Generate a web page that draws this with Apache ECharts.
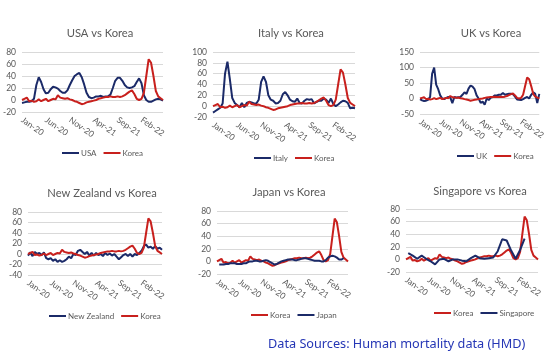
<!DOCTYPE html>
<html>
<head>
<meta charset="utf-8">
<script src="https://cdn.jsdelivr.net/npm/echarts@6/dist/echarts.min.js"></script>
<style>html,body{margin:0;padding:0;background:#fff}#c{width:548px;height:357px}</style>
</head>
<body>
<div id="c"></div>
<script>
// Half-month periods, Jan-20 .. Jun-22 (60 points)
const monthNames = ['Jan','Feb','Mar','Apr','May','Jun','Jul','Aug','Sep','Oct','Nov','Dec'];
const categories = [];
for (let y = 20; y <= 22; y++) {
  for (let m = 0; m < 12; m++) {
    if (y === 22 && m > 5) break;
    categories.push(monthNames[m] + '-' + y);
    categories.push(monthNames[m] + '-' + y + ' late');
  }
}
const xTickLabels = ['Jan-20','Jun-20','Nov-20','Apr-21','Sep-21','Feb-22'];

const korea = [0,2,4,-2,-1,-3,-2,1,-2,0, 2,-2,0,2,1,8,4,3,2,3, 1,0,-2,-3,-5,-7,-6,-4,-3,-2,
  -1,0,2,3,4,5,5,6,5,5, 6,5,6,8,11,14,16,10,2,0, 2,12,40,68,62,40,15,6,3,0];
const usa = [-5,-4,-3,-3,-2,2,25,38,30,18, 11,12,18,22,21,19,15,12,12,16, 25,33,40,43,45,38,26,12,5,3,
  4,6,6,7,5,6,6,9,20,32, 37,37,32,25,21,20,21,23,30,36, 28,8,0,-3,-3,-1,1,2,1,-1];
const italy = [-12,-9,-6,-3,5,60,82,50,15,6, 2,-2,6,-2,6,8,7,5,5,12, 45,55,45,20,12,10,5,6,10,22,
  26,20,12,9,8,14,6,5,10,13, 12,13,5,8,10,10,14,12,6,14, 4,0,3,7,10,9,6,-4,-3,-4];
const uk = [-2,-6,-8,-7,-4,5,80,100,45,30, 10,0,-2,2,5,3,-15,5,3,4, 5,12,20,15,32,42,38,30,10,0,
  -14,-10,-20,0,-5,3,5,10,10,12, 12,18,12,14,15,15,14,6,-3,-4, -5,-2,2,5,0,12,20,15,-15,15];
const newZealand = [-3,3,-4,4,0,2,-2,3,-8,-10, -8,-13,-10,-15,-12,-15,-13,-10,-5,-8, 0,-2,6,8,4,0,4,-3,2,-3,
  2,-2,0,-4,2,-2,1,-3,0,-5, -10,-6,-2,0,-4,0,-5,0,-2,2, 6,15,18,12,14,10,15,10,12,8];
const japan = [null,-5,-5,-5,-4,-4,-3,-3,-3,-4, -4,-4,-3,-3,-1,0,0,1,1,0, 0,1,2,1,-1,-3,-5,-4,-2,0,
  1,2,3,3,3,2,2,3,4,5, 5,4,3,2,1,1,1,0,0,2, 6,8,9,8,6,3,3,5,null,null];
const singapore = [null,10,null,6,null,1,null,6,null,1, null,-3,null,-8,null,0,null,1,null,-3,
  null,0,null,0,null,-2,null,-3,null,2, null,6,null,2,null,1,null,2,null,3,
  null,13,null,32,null,30,null,14,null,1, null,15,null,33,null,null,null,null,null,null];

const NAVY = '#1B2A68', RED = '#C8201D', GREY = '#595959', GRID = '#D9D9D9';
const FONT = 'Lato';

const panels = [
  {title:'USA vs Korea', series:[['USA',usa,NAVY],['Korea',korea,RED]], grid:{left:22,top:52,width:141,height:60},
   y:[-20,80,20], tx:95, ty:23, legend:{left:57,top:144}},
  {title:'Italy vs Korea', series:[['Italy',italy,NAVY],['Korea',korea,RED]], grid:{left:213,top:52,width:142,height:65},
   y:[-20,100,20], tx:286, ty:23, legend:{left:249,top:149}},
  {title:'UK vs Korea', series:[['UK',uk,NAVY],['Korea',korea,RED]], grid:{left:420,top:52,width:132,height:62},
   y:[-50,150,50], tx:486, ty:23, legend:{left:452,top:147}},
  {title:'New Zealand vs Korea', series:[['New Zealand',newZealand,NAVY],['Korea',korea,RED]], grid:{left:28,top:212,width:134,height:63},
   y:[-40,80,20], tx:97, ty:183, legend:{left:44,top:307}},
  {title:'Japan vs Korea', series:[['Korea',korea,RED],['Japan',japan,NAVY]], grid:{left:217,top:211,width:131,height:63},
   y:[-20,80,20], tx:284, ty:182, legend:{left:246,top:306}},
  {title:'Singapore vs Korea', series:[['Korea',korea,RED],['Singapore',singapore,NAVY]], grid:{left:406,top:209,width:132,height:63},
   y:[-20,80,20], tx:475, ty:181, legend:{left:429,top:304}}
];

const option = {
  animation:false,
  backgroundColor:'#fff',
  title:[], grid:[], xAxis:[], yAxis:[], legend:[], series:[],
  graphic:[{type:'text', left:268, top:338, style:{text:'Data Sources: Human mortality data (HMD)', fill:'#2536B5',
    font:'12.7px "Noto Sans"'}}]
};

panels.forEach((p, k) => {
  option.title.push({text:p.title, left:p.tx, top:p.ty, textAlign:'center',
    textStyle:{fontFamily:FONT, fontSize:11.2, fontWeight:'normal', color:GREY}});
  option.grid.push(Object.assign({containLabel:false}, p.grid));
  option.xAxis.push({type:'category', gridIndex:k, data:categories, boundaryGap:false,
    axisLine:{show:false}, axisTick:{show:false}, splitLine:{show:false},
    axisLabel:{interval:9, rotate:-35, margin:7, fontFamily:FONT, fontSize:8.5, color:GREY,
      formatter:(v, i) => xTickLabels[i / 10] || ''}});
  option.yAxis.push({type:'value', gridIndex:k, min:p.y[0], max:p.y[1], interval:p.y[2],
    axisLine:{show:false}, axisTick:{show:false},
    splitLine:{lineStyle:{color:GRID, width:1}},
    axisLabel:{fontFamily:FONT, fontSize:8.5, color:GREY, margin:6}});
  option.legend.push({left:p.legend.left, top:p.legend.top, icon:'rect', itemWidth:17, itemHeight:2, itemGap:7,
    data:p.series.map(s => s[0]), selectedMode:false,
    textStyle:{fontFamily:FONT, fontSize:8, color:GREY, padding:[0,0,0,-3]}});
  p.series.forEach(s => {
    option.series.push({name:s[0], type:'line', xAxisIndex:k, yAxisIndex:k, data:s[1], symbol:'none',
      connectNulls:true, lineStyle:{width:2, color:s[2]}, itemStyle:{color:s[2]}});
  });
});

const chart = echarts.init(document.getElementById('c'), null, {renderer:'canvas'});
chart.setOption(option);
</script>
</body>
</html>
